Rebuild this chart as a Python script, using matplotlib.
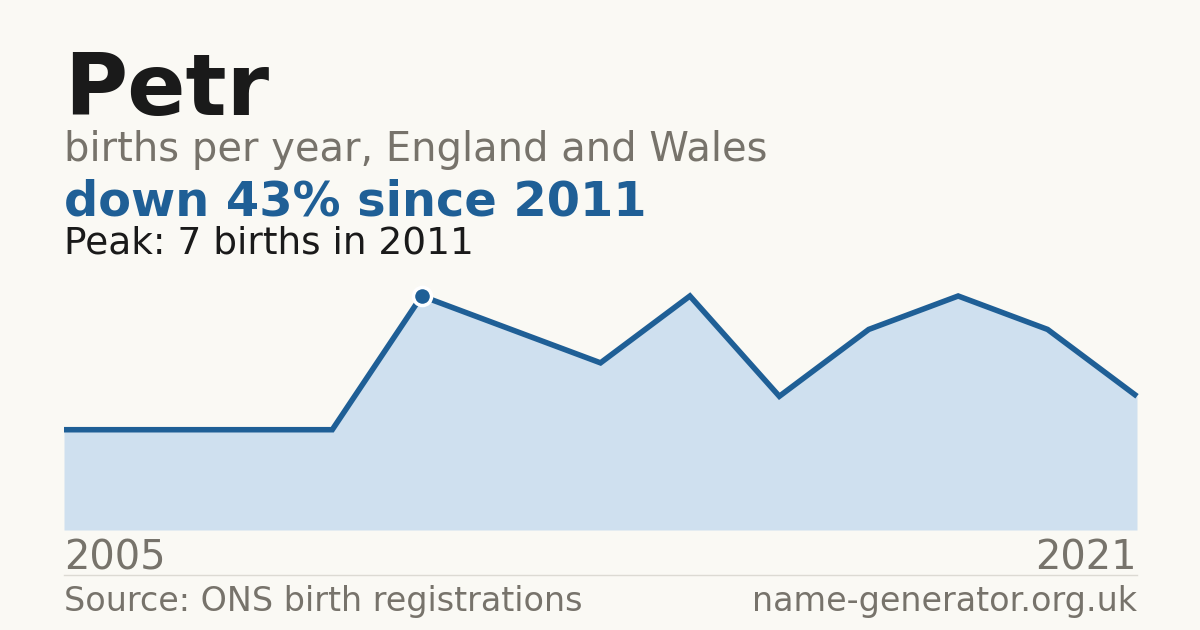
import numpy as np
import matplotlib
matplotlib.use("Agg")
import matplotlib.pyplot as plt

plt.rcParams["font.family"] = ["DejaVu Sans"]

# births per year (x is plotted by index, years with no count are skipped)
years = [2005, 2006, 2008, 2010, 2011, 2012, 2013, 2015, 2016, 2017, 2018, 2020, 2021]
births = [3, 3, 3, 3, 7, 6, 5, 7, 4, 6, 7, 6, 4]
peak_idx = int(np.argmax(births))

bg = "#faf9f4"
blue = "#1f5f96"
fill = "#cfe0ef"
grey = "#77736b"
dark = "#1a1a1a"

W, H = 1200, 630
fig = plt.figure(figsize=(12, 6.3), dpi=100, facecolor=bg)

def fy(px):
    return 1 - px / H

# chart area: x 64..1137, y 296 (value 7) .. 530 (value 0)
ax = fig.add_axes([64 / W, fy(530), (1137 - 64) / W, (530 - 296) / H])
ax.set_facecolor(bg)
x = np.arange(len(births))
ax.fill_between(x, births, 0, color=fill, lw=0)
ax.plot(x, births, color=blue, lw=4, solid_joinstyle="miter",
        solid_capstyle="butt", clip_on=False)
ax.plot(x[peak_idx], births[peak_idx], "o", ms=13, color=blue,
        mec="white", mew=2.5, clip_on=False, zorder=5)
ax.set_xlim(0, len(births) - 1)
ax.set_ylim(0, max(births))
ax.axis("off")

# titles
fig.text(64 / W, fy(115), "Petr", fontsize=62, fontweight="bold", color=dark, va="baseline")
fig.text(64 / W, fy(161), "births per year, England and Wales", fontsize=28.8, color=grey, va="baseline")
drop = round((births[peak_idx] - births[-1]) / births[peak_idx] * 100)
fig.text(64 / W, fy(215), f"down {drop}% since {years[peak_idx]}", fontsize=34.5,
         fontweight="bold", color=blue, va="baseline")
fig.text(64 / W, fy(254), f"Peak: {births[peak_idx]} births in {years[peak_idx]}",
         fontsize=27, color=dark, va="baseline")

# year labels
fig.text(64 / W, fy(570), str(years[0]), fontsize=28.8, color=grey, va="baseline")
fig.text(1137 / W, fy(570), str(years[-1]), fontsize=28.8, color=grey, va="baseline", ha="right")

# rule and footer
fig.add_artist(plt.Line2D([64 / W, 1137 / W], [fy(574.5), fy(574.5)], color="#dcdad3", lw=1))
fig.text(64 / W, fy(611), "Source: ONS birth registrations", fontsize=24, color=grey, va="baseline")
fig.text(1137 / W, fy(611), "name-generator.org.uk", fontsize=24, color=grey, va="baseline", ha="right")

fig.savefig("out.png", dpi=100, facecolor=bg)
